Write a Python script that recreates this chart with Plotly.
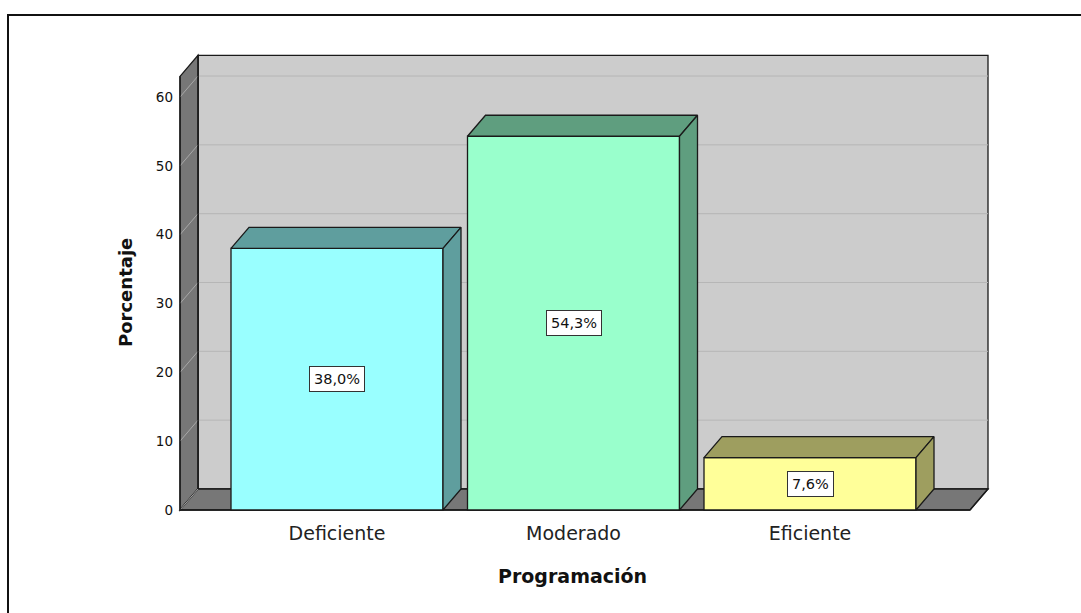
import plotly.graph_objects as go

# ---- data -------------------------------------------------------------
categories = ["Deficiente", "Moderado", "Eficiente"]
percentages = [38.0, 54.3, 7.6]
value_labels = ["38,0%", "54,3%", "7,6%"]
y_ticks = [0, 10, 20, 30, 40, 50, 60]

front_colors = ["#99FFFF", "#99FFCC", "#FFFF99"]
shade_colors = ["#5F9E9E", "#5F9E7F", "#9E9E5F"]

# ---- page geometry (pixels) ------------------------------------------
W, H = 1081, 613
PLOT_L, PLOT_R, PLOT_T, PLOT_B = 176, 1000, 40, 516
X0_PX = 337.0      # centre of the first category
CAT_PX = 236.5     # distance between category centres
Y0_PX = 510.0      # value 0 on the front plane
UNIT_PX = 6.883    # pixels per percentage point
DEPTH_X_PX, DEPTH_Y_PX = 18, 21
BAR_PX = 212
WALL_L_PX, WALL_R_PX = 180, 970
WALL_TOP = 63


def xd(px):
    return (px - X0_PX) / CAT_PX


def yd(py):
    return (Y0_PX - py) / UNIT_PX


def xp(px):
    return (px - PLOT_L) / (PLOT_R - PLOT_L)


def yp(py):
    return (PLOT_B - py) / (PLOT_B - PLOT_T)


DX = DEPTH_X_PX / CAT_PX
DY = DEPTH_Y_PX / UNIT_PX
BAR_W = BAR_PX / CAT_PX
XL, XR = xd(WALL_L_PX), xd(WALL_R_PX)

FONT = "DejaVu Sans"
EDGE = "#1a1a1a"
EW = 1.3

fig = go.Figure()
shapes = []


def poly(xs, ys, fill, line=EDGE, width=EW, layer="below"):
    path = "M " + " L ".join(f"{x},{y}" for x, y in zip(xs, ys)) + " Z"
    shapes.append(dict(type="path", path=path, xref="x", yref="y",
                       fillcolor=fill, line=dict(color=line, width=width),
                       layer=layer))


def seg(x0, y0, x1, y1, color, width=1, layer="below"):
    shapes.append(dict(type="line", x0=x0, y0=y0, x1=x1, y1=y1,
                       xref="x", yref="y", line=dict(color=color, width=width),
                       layer=layer))


# back wall
poly([XL + DX, XR + DX, XR + DX, XL + DX],
     [DY, DY, WALL_TOP + DY, WALL_TOP + DY], "#CCCCCC")
for t in y_ticks[1:]:
    seg(XL + DX, t + DY, XR + DX, t + DY, "#B6B6B6")
# left wall
poly([XL, XL, XL + DX, XL + DX], [0, WALL_TOP, WALL_TOP + DY, DY], "#777777")
# floor
poly([XL, XR, XR + DX, XL + DX], [0, 0, DY, DY], "#777777")
for t in y_ticks:
    seg(XL, t, XL + DX, t + DY, "#A8A8A8")
# redraw wall edges crisp on top of the grid diagonals
seg(XL, 0, XL, WALL_TOP, EDGE, EW)
seg(XL + DX, DY, XL + DX, WALL_TOP + DY, EDGE, EW)
seg(XL, 0, XR, 0, EDGE, EW)
seg(XR, 0, XR + DX, DY, EDGE, EW)

# bar fronts
xs = list(range(len(categories)))
fig.add_trace(go.Bar(
    x=xs, y=percentages, width=BAR_W,
    marker=dict(color=front_colors, line=dict(color=EDGE, width=EW)),
    hoverinfo="skip", showlegend=False,
))

# bar tops and right-hand sides
for i, v in enumerate(percentages):
    x0, x1 = i - BAR_W / 2, i + BAR_W / 2
    fig.add_trace(go.Scatter(
        x=[x0, x1, x1 + DX, x0 + DX, x0], y=[v, v, v + DY, v + DY, v],
        mode="lines", fill="toself", fillcolor=shade_colors[i],
        line=dict(color=EDGE, width=EW), hoverinfo="skip", showlegend=False))
    fig.add_trace(go.Scatter(
        x=[x1, x1 + DX, x1 + DX, x1, x1], y=[0, DY, v + DY, v, 0],
        mode="lines", fill="toself", fillcolor=shade_colors[i],
        line=dict(color=EDGE, width=EW), hoverinfo="skip", showlegend=False))

annotations = []
for i, v in enumerate(percentages):
    annotations.append(dict(
        x=i, y=v / 2, xref="x", yref="y", text=value_labels[i],
        showarrow=False, font=dict(family=FONT, size=14.5, color="#111111"),
        bgcolor="white", bordercolor="#333333", borderwidth=1, borderpad=4))

annotations.append(dict(
    x=xp(125), y=yp(293), xref="paper", yref="paper", text="<b>Porcentaje</b>",
    textangle=-90, showarrow=False, xanchor="center", yanchor="middle",
    font=dict(family=FONT, size=18, color="#111111")))
annotations.append(dict(
    x=xp(572), y=yp(576), xref="paper", yref="paper", text="<b>Programación</b>",
    showarrow=False, xanchor="center", yanchor="middle",
    font=dict(family=FONT, size=19, color="#111111")))

# outer frame
shapes.append(dict(type="rect", xref="paper", yref="paper",
                   x0=xp(8), y0=yp(H + 20), x1=xp(W + 20), y1=yp(15),
                   line=dict(color="#111111", width=2), fillcolor="rgba(0,0,0,0)",
                   layer="above"))

fig.update_layout(
    width=W, height=H,
    margin=dict(l=PLOT_L, r=W - PLOT_R, t=PLOT_T, b=H - PLOT_B, pad=0),
    paper_bgcolor="white", plot_bgcolor="white",
    shapes=shapes, annotations=annotations,
    xaxis=dict(range=[xd(PLOT_L), xd(PLOT_R)], tickvals=xs, ticktext=categories,
               showgrid=False, zeroline=False, showline=False, ticks="",
               tickfont=dict(family=FONT, size=19, color="#222222"),
               ticklabelstandoff=4, fixedrange=True),
    yaxis=dict(range=[yd(PLOT_B), yd(PLOT_T)], tickvals=y_ticks,
               ticktext=[str(t) for t in y_ticks],
               showgrid=False, zeroline=False, showline=False, ticks="",
               tickfont=dict(family=FONT, size=13.5, color="#111111"),
               ticklabelstandoff=2, fixedrange=True),
    font=dict(family=FONT),
)

fig.write_html("out.html")
